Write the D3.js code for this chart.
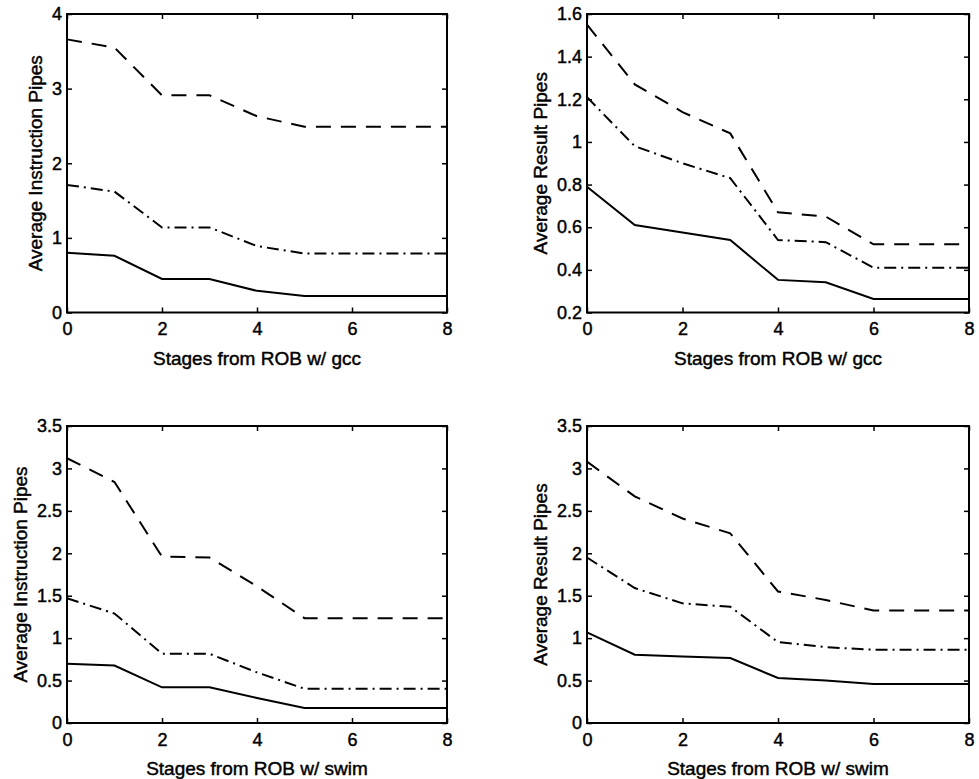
<!DOCTYPE html>
<html>
<head>
<meta charset="utf-8">
<script src="https://cdn.jsdelivr.net/npm/d3@7"></script>
<style>
  body { margin: 0; background: #fff; }
  svg text { font-family: "Liberation Sans", Arial, Helvetica, sans-serif; fill: #000; stroke: #000; stroke-width: 0.45px; }
</style>
</head>
<body>
<div id="chart"></div>
<script>
// stages from the ROB (x values, same for every panel)
const stages = [0, 1, 2, 3, 4, 5, 6, 7, 8];
const xTicks = [0, 2, 4, 6, 8];

// gcc - average instruction pipes
const gccInstrHigh = [3.66, 3.55, 2.91, 2.91, 2.63, 2.49, 2.49, 2.49, 2.49];
const gccInstrMid  = [1.71, 1.62, 1.14, 1.14, 0.89, 0.79, 0.79, 0.79, 0.79];
const gccInstrLow  = [0.80, 0.76, 0.45, 0.45, 0.29, 0.22, 0.22, 0.22, 0.22];

// gcc - average result pipes
const gccResultHigh = [1.55, 1.27, 1.14, 1.04, 0.67, 0.65, 0.52, 0.52, 0.52];
const gccResultMid  = [1.21, 0.98, 0.90, 0.83, 0.54, 0.53, 0.41, 0.41, 0.41];
const gccResultLow  = [0.79, 0.61, 0.575, 0.54, 0.353, 0.342, 0.263, 0.263, 0.263];

// swim - average instruction pipes
const swimInstrHigh = [3.12, 2.84, 1.96, 1.95, 1.61, 1.235, 1.235, 1.235, 1.235];
const swimInstrMid  = [1.47, 1.29, 0.816, 0.816, 0.596, 0.404, 0.404, 0.404, 0.404];
const swimInstrLow  = [0.698, 0.678, 0.42, 0.42, 0.294, 0.176, 0.176, 0.176, 0.176];

// swim - average result pipes
const swimResultHigh = [3.08, 2.67, 2.41, 2.235, 1.55, 1.45, 1.325, 1.325, 1.325];
const swimResultMid  = [1.95, 1.59, 1.41, 1.37, 0.953, 0.894, 0.863, 0.863, 0.863];
const swimResultLow  = [1.067, 0.804, 0.784, 0.765, 0.53, 0.5, 0.459, 0.459, 0.459];

// y tick labels
const gccInstrTicks  = [0, 1, 2, 3, 4];
const gccResultTicks = [0.2, 0.4, 0.6, 0.8, 1, 1.2, 1.4, 1.6];
const swimTicks      = [0, 0.5, 1, 1.5, 2, 2.5, 3, 3.5];

// line styles: dashed, dash-dot, solid (matlab '--', '-.', '-')
const lineDashes = ['15,10', '12,5,2,5', null];

const width = 979, height = 779;
const tickFont = 18, titleFont = 19;

const svg = d3.select('#chart')
  .append('svg')
  .attr('width', width)
  .attr('height', height);

const panels = [
  { left: 67,  top: 14,  w: 380, h: 298.5, yTicks: gccInstrTicks,  yTitle: 'Average Instruction Pipes',
    xTitle: 'Stages from ROB w/ gcc',  series: [gccInstrHigh, gccInstrMid, gccInstrLow] },
  { left: 587, top: 14,  w: 382, h: 298.5, yTicks: gccResultTicks, yTitle: 'Average Result Pipes',
    xTitle: 'Stages from ROB w/ gcc',  series: [gccResultHigh, gccResultMid, gccResultLow] },
  { left: 67,  top: 426, w: 380, h: 297,   yTicks: swimTicks,      yTitle: 'Average Instruction Pipes',
    xTitle: 'Stages from ROB w/ swim', series: [swimInstrHigh, swimInstrMid, swimInstrLow] },
  { left: 587, top: 426, w: 382, h: 297,   yTicks: swimTicks,      yTitle: 'Average Result Pipes',
    xTitle: 'Stages from ROB w/ swim', series: [swimResultHigh, swimResultMid, swimResultLow] }
];

panels.forEach(p => drawPanel(p));

function drawPanel(p) {
  const g = svg.append('g')
    .attr('transform', `translate(${p.left},${p.top})`);

  const x = d3.scaleLinear().domain([0, 8]).range([0, p.w]);
  const y = d3.scaleLinear().domain(d3.extent(p.yTicks)).range([p.h, 0]);

  // matlab style: ticks point inward on all four sides
  g.append('g')
    .attr('transform', `translate(0,${p.h})`)
    .call(d3.axisBottom(x).tickValues(xTicks).tickSizeInner(-5).tickSizeOuter(0).tickPadding(10));
  const left = g.append('g')
    .call(d3.axisLeft(y).tickValues(p.yTicks).tickSizeInner(-5).tickSizeOuter(0).tickPadding(5)
      .tickFormat(d => String(d)));
  g.append('g')
    .call(d3.axisTop(x).tickValues(xTicks).tickSizeInner(-5).tickSizeOuter(0).tickFormat(''));
  g.append('g')
    .attr('transform', `translate(${p.w},0)`)
    .call(d3.axisRight(y).tickValues(p.yTicks).tickSizeInner(-5).tickSizeOuter(0).tickFormat(''));

  g.selectAll('.domain').remove();
  g.selectAll('.tick line').attr('stroke', '#000').attr('stroke-width', 1.5);
  g.selectAll('.tick text')
    .attr('font-size', tickFont)
    .style('font-family', '"Liberation Sans", Arial, sans-serif');

  // box around the plot
  g.append('rect')
    .attr('width', p.w)
    .attr('height', p.h)
    .attr('fill', 'none')
    .attr('stroke', '#000')
    .attr('stroke-width', 2);

  // the three curves
  const line = d3.line()
    .x((d, i) => x(stages[i]))
    .y(d => y(d));

  p.series.forEach((vals, i) => {
    g.append('path')
      .datum(vals)
      .attr('fill', 'none')
      .attr('stroke', '#000')
      .attr('stroke-width', 2)
      .attr('stroke-dasharray', lineDashes[i])
      .attr('d', line);
  });

  // x axis title
  g.append('text')
    .attr('x', p.w / 2)
    .attr('y', p.h + 52)
    .attr('text-anchor', 'middle')
    .attr('font-size', titleFont)
    .text(p.xTitle);

  // y axis title sits left of the widest tick label
  let maxW = 0;
  left.selectAll('.tick text').each(function() {
    maxW = Math.max(maxW, this.getBBox().width);
  });
  const cx = -5 - maxW - 17;
  g.append('text')
    .attr('transform', `translate(${cx},${p.h / 2}) rotate(-90)`)
    .attr('text-anchor', 'middle')
    .attr('dy', '0.35em')
    .attr('font-size', titleFont)
    .text(p.yTitle);
}
</script>
</body>
</html>
